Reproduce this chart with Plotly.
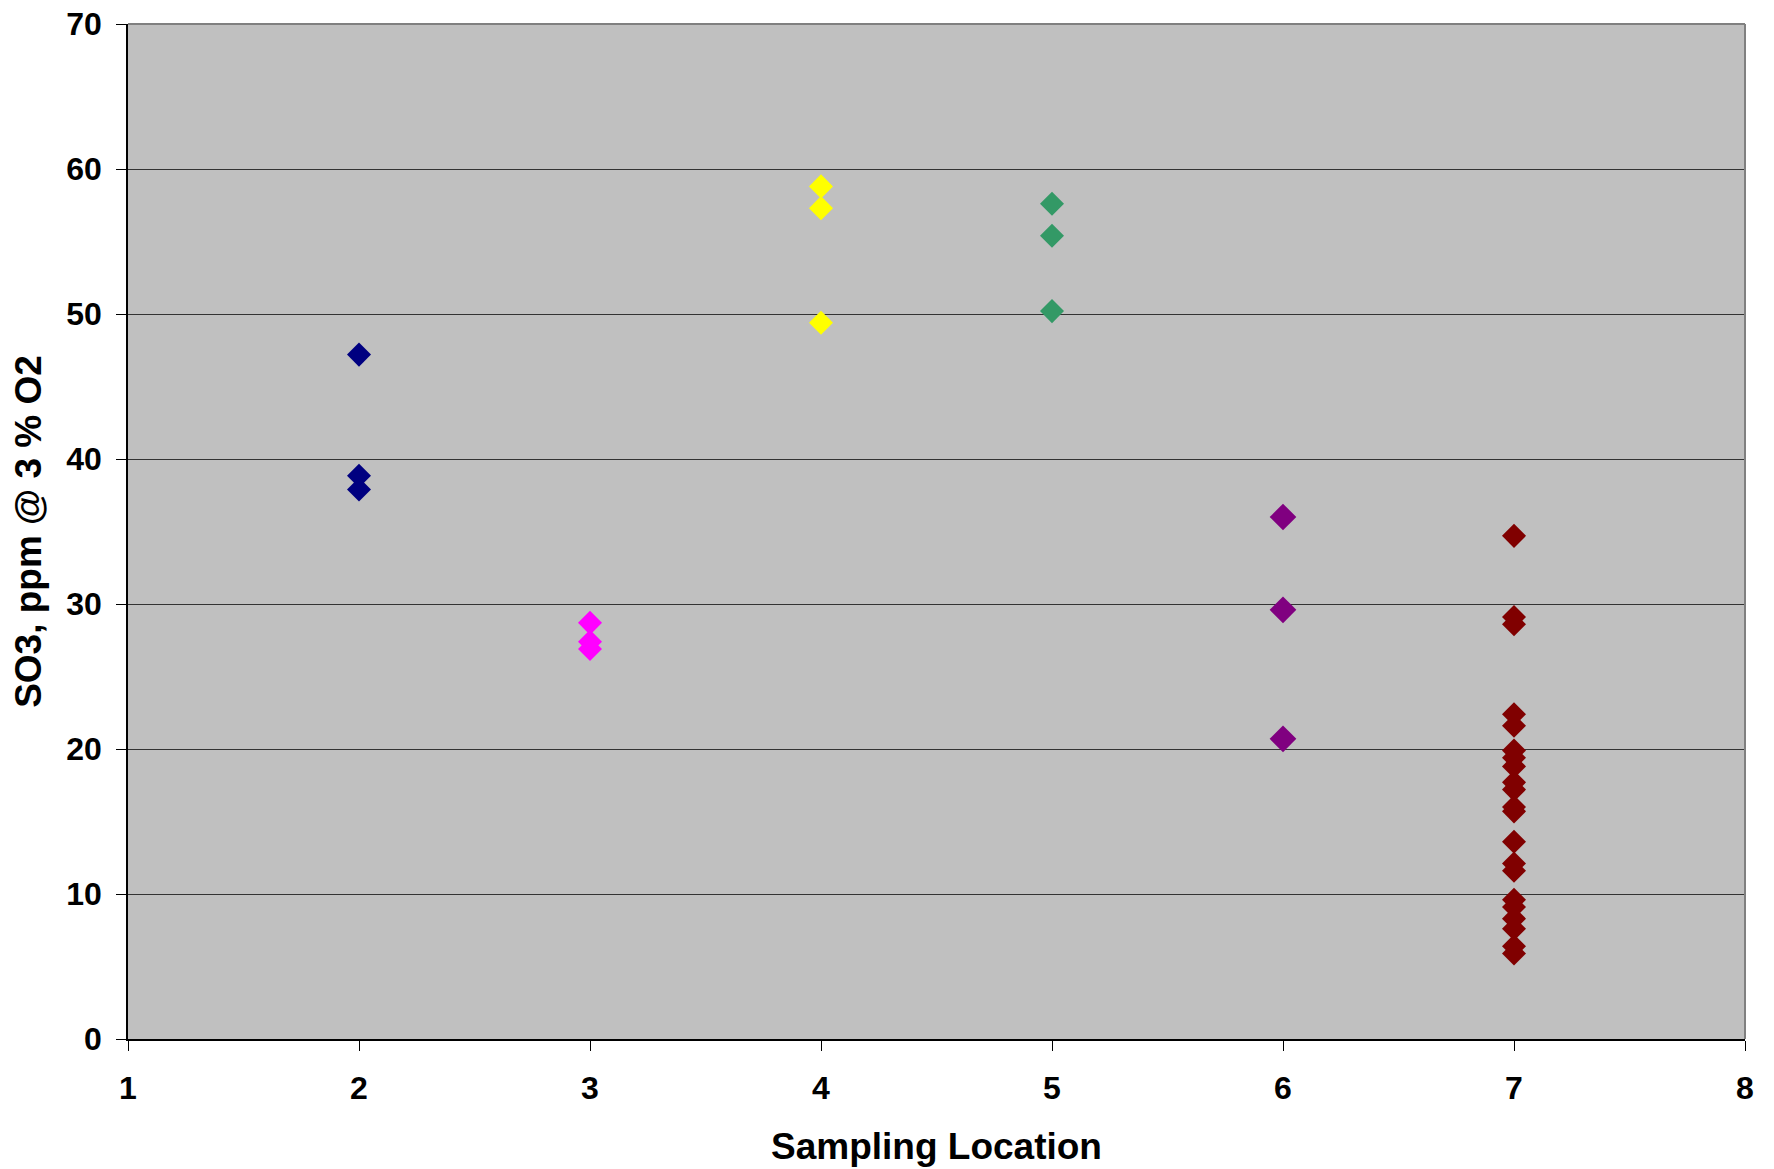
import plotly.graph_objects as go

loc2 = [47.2, 38.85, 37.9]
loc3 = [28.7, 27.4, 26.9]
loc4 = [58.8, 57.3, 49.4]
loc5 = [57.6, 55.4, 50.2]
loc6 = [36.0, 29.6, 20.7]
loc7 = [34.7, 29.1, 28.6, 22.4, 21.6, 19.9, 19.4, 18.8, 17.7, 17.2, 16.0, 15.7,
        13.6, 12.1, 11.6, 9.6, 9.1, 8.3, 7.6, 6.4, 5.9]

series = [
    (2, loc2, "#000080", 18.5),
    (3, loc3, "#FF00FF", 18.5),
    (4, loc4, "#FFFF00", 18.5),
    (5, loc5, "#339966", 18.5),
    (6, loc6, "#800080", 20.5),
    (7, loc7, "#800000", 18.5),
]

fig = go.Figure()
for x, ys, color, size in series:
    fig.add_trace(go.Scatter(
        x=[x] * len(ys), y=ys, mode="markers",
        marker=dict(symbol="diamond", size=size, color=color, line=dict(width=0)),
        showlegend=False,
    ))

font = "Liberation Sans, Arial, sans-serif"
fig.update_layout(
    width=1774, height=1169,
    margin=dict(l=128, r=29, t=24, b=130, autoexpand=False),
    paper_bgcolor="white", plot_bgcolor="#C0C0C0",
    font=dict(family=font, color="black"),
    xaxis=dict(
        range=[1, 8], dtick=1, tick0=1, showgrid=False, zeroline=False,
        showline=True, linecolor="black", linewidth=1.5, automargin=False,
        ticks="outside", ticklen=10, tickcolor="black", tickwidth=1,
        tickfont=dict(size=32, family=font, weight="bold"),
        ticklabelstandoff=10,
        title=dict(text="<b>Sampling Location</b>", font=dict(size=37, family=font), standoff=28),
    ),
    yaxis=dict(
        range=[0, 70], dtick=10, tick0=0, showgrid=True, gridcolor="#333333", gridwidth=1,
        zeroline=False, showline=True, linecolor="black", linewidth=1.5, automargin=False,
        ticks="outside", ticklen=10, tickcolor="black", tickwidth=1,
        tickfont=dict(size=32, family=font, weight="bold"),
        ticklabelstandoff=8,
        title=dict(text="<b>SO3, ppm @ 3 % O2</b>", font=dict(size=37, family=font), standoff=13),
    ),
)

# gray border on top and right of the plot area
fig.add_shape(type="line", xref="paper", yref="paper", x0=0, x1=1, y0=1, y1=1,
              line=dict(color="#808080", width=2))
fig.add_shape(type="line", xref="paper", yref="paper", x0=1, x1=1, y0=0, y1=1,
              line=dict(color="#808080", width=2))

fig.write_html("out.html")
